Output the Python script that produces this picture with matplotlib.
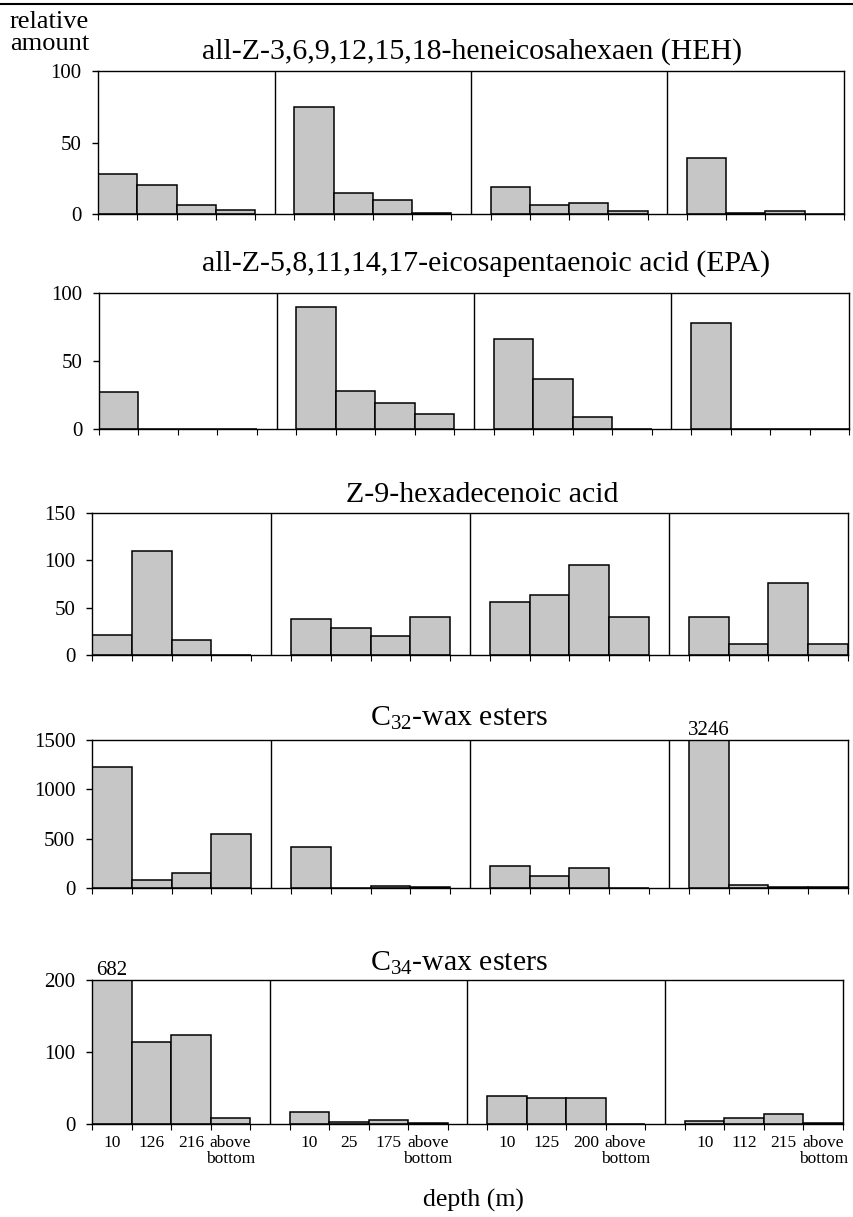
import matplotlib.pyplot as plt
from matplotlib.lines import Line2D
import numpy as np

plt.rcParams['font.family'] = ['Liberation Serif', 'DejaVu Serif']
plt.rcParams['mathtext.fontset'] = 'custom'
plt.rcParams['mathtext.rm'] = 'Liberation Serif'

# depth labels per station (4 stations, 4 depths each)
depths = [['10', '126', '216', 'above\nbottom'],
          ['10', '25', '175', 'above\nbottom'],
          ['10', '125', '200', 'above\nbottom'],
          ['10', '112', '215', 'above\nbottom']]

# relative amounts, one list per station
heh = [[28, 20, 6, 3], [75, 15, 10, 1], [19, 6, 8, 2], [39, 1, 2, 0]]
epa = [[27, 0, 0, 0], [90, 28, 19, 11], [66, 37, 9, 0], [78, 0, 0, 0]]
hexadecenoic = [[21, 110, 16, 0], [38, 29, 20, 40], [56, 63, 95, 40], [40, 12, 76, 12]]
c32_wax = [[1230, 80, 150, 545], [415, 0, 20, 15], [225, 120, 200, 0], [3246, 35, 10, 8]]
c34_wax = [[682, 114, 123, 8], [16, 3, 5, 2], [39, 36, 36, 0], [4, 9, 14, 2]]

titles = ['all-Z-3,6,9,12,15,18-heneicosahexaen (HEH)',
          'all-Z-5,8,11,14,17-eicosapentaenoic acid (EPA)',
          'Z-9-hexadecenoic acid',
          r'$\mathregular{C_{32}}$-wax esters',
          r'$\mathregular{C_{34}}$-wax esters']
series = [heh, epa, hexadecenoic, c32_wax, c34_wax]
y_max = [100, 100, 150, 1500, 200]
y_ticks = [[0, 50, 100], [0, 50, 100], [0, 50, 100, 150],
           [0, 500, 1000, 1500], [0, 100, 200]]

W, H = 854, 1217
# axes boxes in pixels: left, right, top, bottom
boxes = [(98, 844, 71, 214),
         (99, 849, 293, 429),
         (92, 848, 513, 655),
         (92, 848, 740, 888),
         (92, 843, 980, 1124)]
title_pos = [(472, 52), (486, 264), (482, 495), (459, 718), (459, 963)]

bar_color = '#c6c6c6'

fig = plt.figure(figsize=(W / 100, H / 100), dpi=100)

# page header rule
fig.add_artist(Line2D([0, 1], [1 - 4 / H, 1 - 4 / H], color='black', lw=1.5))

fig.text(10 / W, 1 - 22 / H, 'relative', fontsize=19, ha='left', va='center')
fig.text(10 / W, 1 - 44 / H, 'amount', fontsize=19, ha='left', va='center')

for i, (data, box) in enumerate(zip(series, boxes)):
    l, r, t, b = box
    ax = fig.add_axes([l / W, 1 - b / H, (r - l) / W, (b - t) / H])
    positions = []
    values = []
    for g, station in enumerate(data):
        for k, v in enumerate(station):
            positions.append(g * 5 + k)
            values.append(v)
    ax.bar(positions, values, width=1.0, color=bar_color,
           edgecolor='black', linewidth=1.1)
    for d in (4, 9, 14):
        ax.axvline(d, color='black', lw=1.0)
    ax.set_xlim(-0.5, 18.5)
    ax.set_ylim(0, y_max[i])

    # values beyond the scale
    for p, v in zip(positions, values):
        if v > y_max[i]:
            ax.text(p, y_max[i], str(v), ha='center', va='bottom',
                    fontsize=15, clip_on=False)

    ax.set_yticks(y_ticks[i])
    ax.tick_params(axis='y', direction='out', length=4, width=1,
                   labelsize=15, pad=8)
    ax.set_xticks(np.arange(-0.5, 19, 1.0), minor=True)
    ax.tick_params(axis='x', which='minor', direction='out', length=4, width=0.8)
    if i == len(series) - 1:
        ax.set_xticks(positions)
        ax.set_xticklabels([lab for st in depths for lab in st],
                           fontsize=12.5, linespacing=0.95)
        ax.tick_params(axis='x', which='major', length=0, pad=8)
    else:
        ax.set_xticks([])
    for s in ax.spines.values():
        s.set_linewidth(1.0)

    tx, ty = title_pos[i]
    fig.text(tx / W, 1 - ty / H, titles[i], fontsize=21.5,
             ha='center', va='center')

fig.text(473 / W, 1 - 1200 / H, 'depth (m)', fontsize=18.5,
         ha='center', va='center')

fig.savefig('out.png', dpi=100, facecolor='white')
